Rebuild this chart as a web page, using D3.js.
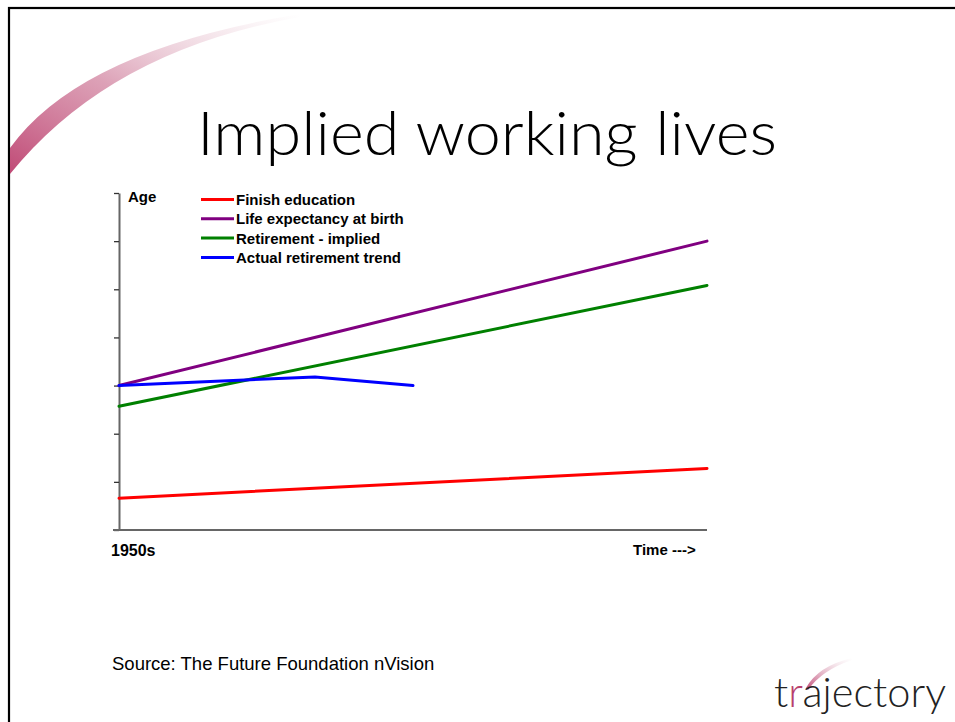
<!DOCTYPE html>
<html><head><meta charset="utf-8">
<script src="https://cdn.jsdelivr.net/npm/d3@7"></script>
<style>body{margin:0;background:#fff}svg{display:block}</style>
</head><body>
<svg id="c" width="955" height="722"></svg>
<script>
// Data (abstract units: age ticks, time periods)
const periods = [0, 6];            // 1950s ... future
const finishEducation = [0.66, 1.28];
const lifeExpectancy = [3.0, 6.0];
const retirementImplied = [2.57, 5.08];
const actualPeriods = [0, 2, 3];
const actualRetirement = [3.0, 3.18, 3.0];
const seriesNames = ["Finish education", "Life expectancy at birth", "Retirement - implied", "Actual retirement trend"];
const seriesColors = ["#ff0000", "#800080", "#008000", "#0000ff"];
const yTicks = [0, 1, 2, 3, 4, 5, 6, 7];

const svg = d3.select("#c");
// slide border
svg.append("rect").attr("x", 9).attr("y", 8).attr("width", 960).attr("height", 730)
  .attr("fill", "none").attr("stroke", "#000").attr("stroke-width", 2.2);

// swoosh decoration
const defs = svg.append("defs");
const g1 = defs.append("linearGradient").attr("id", "sw").attr("x1", "0").attr("y1", "1").attr("x2", "1").attr("y2", "0");
g1.append("stop").attr("offset", "0").attr("stop-color", "#c04a76").attr("stop-opacity", 1);
g1.append("stop").attr("offset", "0.45").attr("stop-color", "#d48aa5").attr("stop-opacity", 0.8);
g1.append("stop").attr("offset", "1").attr("stop-color", "#e8c8d4").attr("stop-opacity", 0);
svg.append("path").attr("d", "M10,148 Q80,50 300,14 L300,17 Q110,50 10,174 Z").attr("fill", "url(#sw)");

// title
svg.append("text").attr("x", 487).attr("y", 155).attr("text-anchor", "middle")
  .attr("font-family", "Lato, sans-serif").attr("font-weight", 300).attr("font-size", 61)
  .attr("textLength", 580).attr("lengthAdjust", "spacingAndGlyphs")
  .attr("fill", "#000").text("Implied working lives");

// chart
const x = d3.scaleLinear().domain([0, 6]).range([119, 707]);
const y = d3.scaleLinear().domain([0, 7]).range([530, 193]);

const yAxis = svg.append("g").attr("transform", "translate(119,0)")
  .call(d3.axisLeft(y).tickValues(yTicks).tickSize(5).tickSizeOuter(0).tickFormat(""));
yAxis.select(".domain").attr("stroke", "#666").attr("stroke-width", 2);
yAxis.selectAll(".tick line").attr("stroke", "#333").attr("stroke-width", 1.3);

const xAxis = svg.append("g").attr("transform", "translate(0,530)")
  .call(d3.axisBottom(x).tickValues([]).tickSizeOuter(0));
xAxis.select(".domain").attr("stroke", "#666").attr("stroke-width", 2).attr("d", `M${x(0)-6},0H${x(6)}`);

const line = d3.line().x(d => x(d[0])).y(d => y(d[1]));
const series = [
  periods.map((p, i) => [p, finishEducation[i]]),
  periods.map((p, i) => [p, lifeExpectancy[i]]),
  periods.map((p, i) => [p, retirementImplied[i]]),
  actualPeriods.map((p, i) => [p, actualRetirement[i]])
];
series.forEach((s, i) => {
  svg.append("path").attr("d", line(s)).attr("fill", "none")
    .attr("stroke", seriesColors[i]).attr("stroke-width", 3).attr("stroke-linecap", "round");
});

const bold = "Liberation Sans, Arial, sans-serif";
svg.append("text").attr("x", 128).attr("y", 202).attr("font-family", bold).attr("font-weight", "bold")
  .attr("font-size", 15).text("Age");
svg.append("text").attr("x", 111).attr("y", 556).attr("font-family", bold).attr("font-weight", "bold")
  .attr("font-size", 16).text("1950s");
svg.append("text").attr("x", 633).attr("y", 555).attr("font-family", bold).attr("font-weight", "bold")
  .attr("font-size", 15).text("Time --->");

// legend
const lg = svg.append("g");
seriesNames.forEach((n, i) => {
  const yy = 199.5 + i * 19.3;
  lg.append("line").attr("x1", 201).attr("x2", 234).attr("y1", yy).attr("y2", yy)
    .attr("stroke", seriesColors[i]).attr("stroke-width", 3);
  lg.append("text").attr("x", 236).attr("y", yy + 5.5).attr("font-family", bold).attr("font-weight", "bold")
    .attr("font-size", 15).text(n);
});

// source
svg.append("text").attr("x", 112).attr("y", 670).attr("font-family", "Liberation Sans, Arial, sans-serif")
  .attr("font-size", 18.5).text("Source: The Future Foundation nVision");

// logo
const g2 = defs.append("linearGradient").attr("id", "lsw").attr("x1", "0").attr("y1", "1").attr("x2", "1").attr("y2", "0");
g2.append("stop").attr("offset", "0").attr("stop-color", "#c04a76").attr("stop-opacity", 1);
g2.append("stop").attr("offset", "1").attr("stop-color", "#e8c8d4").attr("stop-opacity", 0);
svg.append("path").attr("d", "M806,688 Q818,666 852,658 L852,660 Q822,670 808,690 Z").attr("fill", "url(#lsw)");
const logo = svg.append("text").attr("x", 774).attr("y", 707).attr("font-family", "Lato, sans-serif")
  .attr("font-weight", 300).attr("font-size", 42).attr("fill", "#222")
  .attr("textLength", 172).attr("lengthAdjust", "spacingAndGlyphs");
logo.append("tspan").text("t");
logo.append("tspan").attr("fill", "#b8406c").text("r");
logo.append("tspan").text("ajectory");
</script>
</body></html>
